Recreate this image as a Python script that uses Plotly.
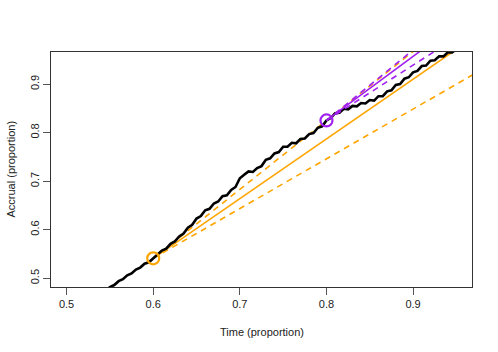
import plotly.graph_objects as go

# Observed accrual curve (time proportion vs accrual proportion)
time_obs = [0.545, 0.550, 0.555, 0.560, 0.565, 0.570, 0.575, 0.580, 0.585, 0.590,
            0.595, 0.600, 0.605, 0.610, 0.615, 0.620, 0.625, 0.630, 0.635, 0.640,
            0.645, 0.650, 0.655, 0.660, 0.665, 0.670, 0.675, 0.680, 0.685, 0.690,
            0.695, 0.700, 0.705, 0.710, 0.715, 0.720, 0.725, 0.730, 0.735, 0.740,
            0.745, 0.750, 0.755, 0.760, 0.765, 0.770, 0.775, 0.780, 0.785, 0.790,
            0.795, 0.800, 0.805, 0.810, 0.815, 0.820, 0.825, 0.830, 0.835, 0.840,
            0.845, 0.850, 0.855, 0.860, 0.865, 0.870, 0.875, 0.880, 0.885, 0.890,
            0.895, 0.900, 0.905, 0.910, 0.915, 0.920, 0.925, 0.930, 0.935, 0.940,
            0.945, 0.950, 0.955]
accrual_obs = [0.474, 0.482, 0.486, 0.494, 0.498, 0.506, 0.510, 0.518, 0.522, 0.530,
               0.533, 0.541, 0.547, 0.557, 0.561, 0.571, 0.576, 0.586, 0.592, 0.604,
               0.610, 0.623, 0.628, 0.640, 0.643, 0.654, 0.658, 0.669, 0.671, 0.682,
               0.688, 0.706, 0.713, 0.720, 0.719, 0.727, 0.731, 0.744, 0.747, 0.757,
               0.760, 0.771, 0.771, 0.779, 0.778, 0.787, 0.788, 0.797, 0.799, 0.810,
               0.813, 0.825, 0.830, 0.840, 0.841, 0.849, 0.848, 0.855, 0.854, 0.861,
               0.860, 0.867, 0.866, 0.875, 0.875, 0.885, 0.887, 0.898, 0.900, 0.911,
               0.914, 0.924, 0.927, 0.937, 0.938, 0.948, 0.949, 0.957, 0.957, 0.965,
               0.965, 0.972, 0.973]

# Projection from time 0.6 (orange)
orange_x = [0.6, 1.0]
orange_mid = [0.541, 1.033]
orange_hi = [0.541, 1.109]
orange_lo = [0.541, 0.951]

# Projection from time 0.8 (purple)
purple_x = [0.8, 1.0]
purple_mid = [0.825, 1.089]
purple_hi = [0.825, 1.115]
purple_lo = [0.825, 1.053]

ORANGE = "#FFA500"
PURPLE = "#A020F0"
DASH = "6px,5px"
FONT = "Liberation Sans, Arial, sans-serif"

fig = go.Figure()

fig.add_trace(go.Scatter(x=orange_x, y=orange_mid, mode="lines",
                         line=dict(color=ORANGE, width=1.6)))
fig.add_trace(go.Scatter(x=orange_x, y=orange_hi, mode="lines",
                         line=dict(color=ORANGE, width=1.6, dash=DASH)))
fig.add_trace(go.Scatter(x=orange_x, y=orange_lo, mode="lines",
                         line=dict(color=ORANGE, width=1.6, dash=DASH)))

fig.add_trace(go.Scatter(x=time_obs, y=accrual_obs, mode="lines",
                         line=dict(color="black", width=2.6)))

fig.add_trace(go.Scatter(x=purple_x, y=purple_mid, mode="lines",
                         line=dict(color=PURPLE, width=1.6)))
fig.add_trace(go.Scatter(x=purple_x, y=purple_hi, mode="lines",
                         line=dict(color=PURPLE, width=1.6, dash=DASH)))
fig.add_trace(go.Scatter(x=purple_x, y=purple_lo, mode="lines",
                         line=dict(color=PURPLE, width=1.6, dash=DASH)))

fig.add_trace(go.Scatter(x=[orange_x[0]], y=[orange_mid[0]], mode="markers",
                         marker=dict(symbol="circle-open", size=12,
                                     color=ORANGE, line=dict(color=ORANGE, width=2.2))))
fig.add_trace(go.Scatter(x=[purple_x[0]], y=[purple_mid[0]], mode="markers",
                         marker=dict(symbol="circle-open", size=12,
                                     color=PURPLE, line=dict(color=PURPLE, width=2.2))))

axis_common = dict(showgrid=False, zeroline=False, showline=True, mirror=True,
                   automargin=False,
                   linecolor="#333333", linewidth=1, ticks="outside", ticklen=7,
                   tickcolor="#555555", tickwidth=1,
                   tickfont=dict(family=FONT, size=11, color="#222222"))

fig.update_layout(
    width=498, height=352,
    margin=dict(l=51, r=26, t=52, b=65, autoexpand=False),
    paper_bgcolor="white", plot_bgcolor="white",
    showlegend=False,
    xaxis=dict(range=[0.482, 0.968], tickvals=[0.5, 0.6, 0.7, 0.8, 0.9],
               ticktext=["0.5", "0.6", "0.7", "0.8", "0.9"], **axis_common),
    yaxis=dict(range=[0.482, 0.966], tickvals=[0.5, 0.6, 0.7, 0.8, 0.9],
               ticktext=["0.5", "0.6", "0.7", "0.8", "0.9"], tickangle=-90,
               **axis_common),
    annotations=[
        dict(text="Time (proportion)", xref="paper", yref="paper", x=0.5, y=0,
             xanchor="center", yanchor="middle", yshift=-45, showarrow=False,
             font=dict(family=FONT, size=11, color="#222222")),
        dict(text="Accrual (proportion)", xref="paper", yref="paper", x=0, y=0.5,
             xanchor="center", yanchor="middle", xshift=-41, textangle=-90,
             showarrow=False,
             font=dict(family=FONT, size=11, color="#222222")),
    ],
)

fig.write_html("out.html", config={"displayModeBar": False},
               post_script="document.body.style.margin='0';document.body.style.overflow='hidden';")
